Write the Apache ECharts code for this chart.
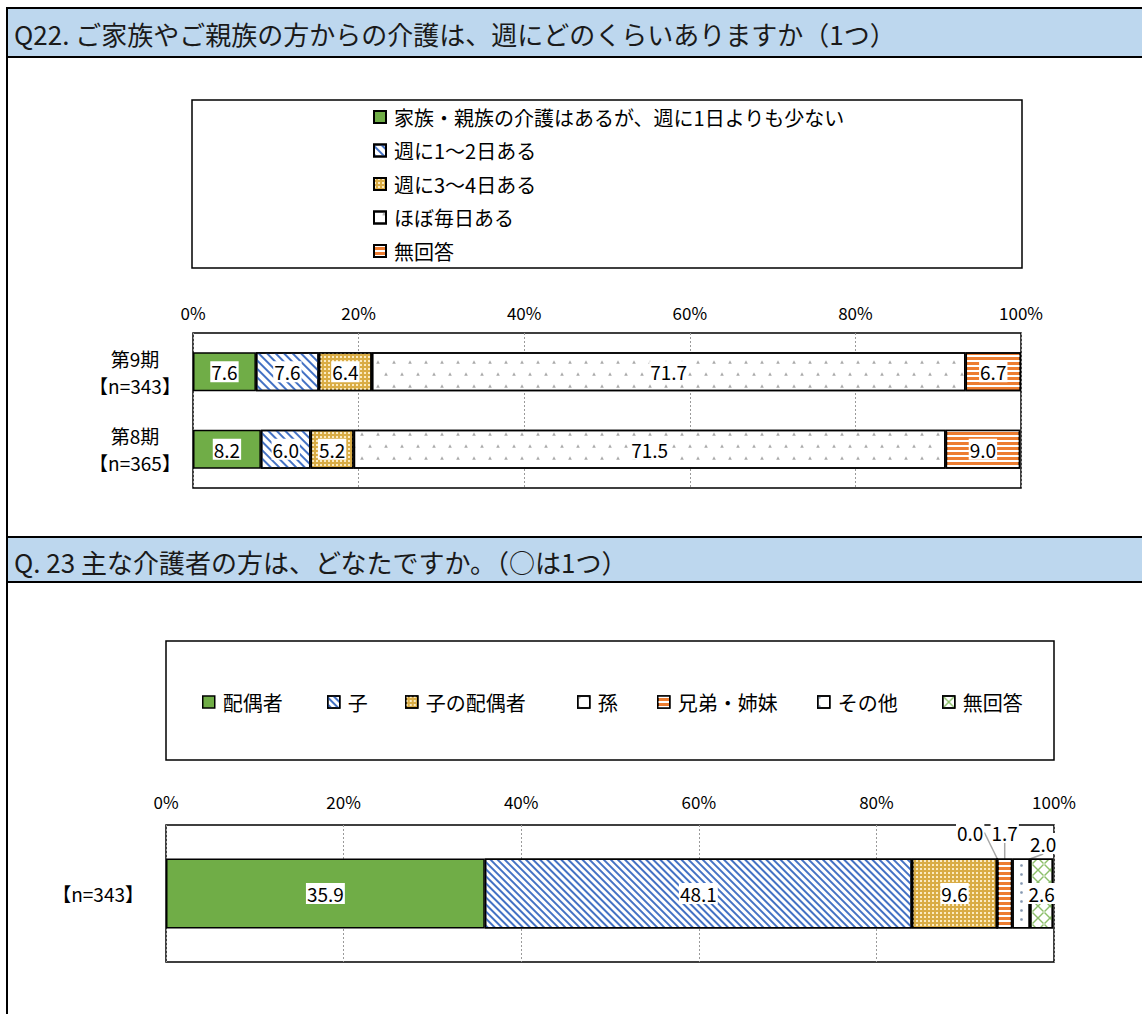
<!DOCTYPE html>
<html>
<head>
<meta charset="utf-8">
<script src="https://cdn.jsdelivr.net/npm/echarts@6/dist/echarts.min.js"></script>
<style>
html, body { margin: 0; padding: 0; background: #fff; }
#main { width: 1142px; height: 1014px; }
</style>
</head>
<body>
<div id="main"></div>
<script>
// Q22 data
var q22Periods = ['第9期\n【n=343】', '第8期\n【n=365】'];
var q22Names = ['家族・親族の介護はあるが、週に1日よりも少ない', '週に1～2日ある', '週に3～4日ある', 'ほぼ毎日ある', '無回答'];
var q22Less = [7.6, 8.2];
var q22Days12 = [7.6, 6.0];
var q22Days34 = [6.4, 5.2];
var q22Daily = [71.7, 71.5];
var q22NoAns = [6.7, 9.0];

// Q23 data
var q23Cats = ['【n=343】'];
var q23Names = ['配偶者', '子', '子の配偶者', '孫', '兄弟・姉妹', 'その他', '無回答'];
var q23Values = [35.9, 48.1, 9.6, 0.0, 1.7, 2.0, 2.6];

var pctMin = 0, pctMax = 100, pctStep = 20;

var FONT = "'Noto Sans CJK JP', sans-serif";

// hatch patterns
var pat = {
  green: { color: '#70AD47' },
  blue: { color: '#fff', decal: { color: '#4472C4', symbol: 'rect', dashArrayX: [1, 0], dashArrayY: [2, 4], rotation: Math.PI / 4 } },
  blueFine: { color: '#fff', decal: { color: '#4472C4', symbol: 'rect', dashArrayX: [1, 0], dashArrayY: [1.5, 3], rotation: Math.PI / 4 } },
  gold: { color: '#D9AC45', decal: { color: '#FBEBC2', symbol: 'rect', dashArrayX: [1.5, 1.5], dashArrayY: [1.5, 1.5] } },
  chevron: { color: '#fff', decal: { color: '#AAAAAA', symbol: 'triangle', symbolSize: 0.9, dashArrayX: [[4, 12], [0, 8, 4, 4]], dashArrayY: [4, 8] } },
  orange: { color: '#ED7D31', decal: { color: '#fff', symbol: 'rect', dashArrayX: [1, 0], dashArrayY: [1.5, 2.5] } },
  greyDots: { color: '#fff', decal: { color: '#A0A0A0', symbol: 'circle', symbolSize: 0.8, dashArrayX: [3, 7], dashArrayY: [3, 7] } },
  blueDots: { color: '#fff', decal: { color: '#8497B0', symbol: 'circle', symbolSize: 0.9, dashArrayX: [3, 9], dashArrayY: [3, 6] } },
  greenX: { color: '#fff', decal: { color: '#8CBF6A', symbol: 'path://M0,1L1,0L6,5L11,0L12,1L7,6L12,11L11,12L6,7L1,12L0,11L5,6Z', symbolSize: 1, dashArrayX: [12, 0], dashArrayY: [12, 0] } }
};

function styleOf(p) {
  var s = { color: p.color, borderColor: '#000', borderWidth: 1.5 };
  if (p.decal) s.decal = p.decal;
  return s;
}

var valueLabel = {
  show: true,
  position: 'inside',
  fontFamily: FONT,
  fontSize: 19,
  color: '#000',
  backgroundColor: '#fff',
  padding: [2, 1, 0, 1],
  formatter: function (p) { return p.value.toFixed(1); }
};

var q22Data = [q22Less, q22Days12, q22Days34, q22Daily, q22NoAns];
var q22Pats = [pat.green, pat.blue, pat.gold, pat.chevron, pat.orange];
var q23Pats = [pat.green, pat.blueFine, pat.gold, pat.greyDots, pat.orange, pat.blueDots, pat.greenX];
var q23Shift = [null, null, null, [-27, -61], [0, -61], [22, -50], null];
var q23LegendX = [202, 327, 405, 577, 657, 817, 942];

var series = [];
q22Names.forEach(function (n, i) {
  series.push({
    name: n, type: 'bar', stack: 'q22', xAxisIndex: 0, yAxisIndex: 0,
    barWidth: 39, data: q22Data[i],
    itemStyle: styleOf(q22Pats[i]),
    label: valueLabel
  });
});
q23Names.forEach(function (n, i) {
  var s = {
    name: n, type: 'bar', stack: 'q23', xAxisIndex: 1, yAxisIndex: 1,
    barWidth: 70, data: [q23Values[i]],
    itemStyle: styleOf(q23Pats[i]),
    label: valueLabel
  };
  if (q23Shift[i]) {
    s.labelLayout = { dx: q23Shift[i][0], dy: q23Shift[i][1] };
    s.labelLine = { show: true, lineStyle: { color: '#A6A6A6', width: 1.5 } };
  }
  series.push(s);
});

var legendText = { fontFamily: FONT, fontSize: 20, lineHeight: 20, color: '#000', padding: [0, 0, 0, 3] };
var legends = [{
  orient: 'vertical', left: 373, top: 107, padding: 0, icon: 'rect',
  itemWidth: 12, itemHeight: 12, itemGap: 13.5,
  data: q22Names, textStyle: legendText, selectedMode: false
}];
q23Names.forEach(function (n, i) {
  legends.push({
    left: q23LegendX[i], top: 692, padding: 0, icon: 'rect', itemWidth: 12, itemHeight: 12,
    data: [{ name: n, itemStyle: styleOf(q23Pats[i]) }],
    textStyle: legendText, selectedMode: false
  });
});

function xAxisOf(idx, margin) {
  return {
    type: 'value', gridIndex: idx, position: 'top',
    min: pctMin, max: pctMax, interval: pctStep,
    axisLabel: { formatter: '{value}%', margin: margin, fontFamily: FONT, fontSize: 17, color: '#000' },
    axisLine: { show: false }, axisTick: { show: false },
    splitLine: { lineStyle: { type: [2, 2], color: '#9A9A9A', width: 1 } }
  };
}

var myChart = echarts.init(document.getElementById('main'), null, { renderer: 'svg' });
var option = {
  animation: false,
  textStyle: { fontFamily: FONT },
  graphic: [
    { type: 'line', shape: { x1: 7, y1: 8, x2: 7, y2: 1014 }, style: { stroke: '#000', lineWidth: 2 } },
    { type: 'rect', shape: { x: 7, y: 8, width: 1150, height: 49 }, style: { fill: '#BDD7EE', stroke: '#000', lineWidth: 2 } },
    { type: 'text', x: 14, y: 33, style: { text: 'Q22. ご家族やご親族の方からの介護は、週にどのくらいありますか（1つ）', font: '26px ' + FONT, fill: '#1a1a1a', verticalAlign: 'middle' } },
    { type: 'rect', shape: { x: 7, y: 537, width: 1150, height: 45 }, style: { fill: '#BDD7EE', stroke: '#000', lineWidth: 2 } },
    { type: 'text', x: 14, y: 561, style: { text: 'Q. 23 主な介護者の方は、どなたですか。（○は1つ）', font: '26px ' + FONT, fill: '#1a1a1a', verticalAlign: 'middle' } },
    { type: 'rect', shape: { x: 192, y: 100, width: 830, height: 168 }, style: { fill: 'none', stroke: '#000', lineWidth: 1.5 } },
    { type: 'rect', shape: { x: 166, y: 641, width: 888, height: 119 }, style: { fill: 'none', stroke: '#000', lineWidth: 1.5 } }
  ],
  legend: legends,
  grid: [
    { left: 193, right: 121, top: 333, height: 155, show: true, borderColor: '#000', borderWidth: 1.5 },
    { left: 166, right: 88, top: 825, height: 137, show: true, borderColor: '#000', borderWidth: 1.5 }
  ],
  xAxis: [xAxisOf(0, 12), xAxisOf(1, 15)],
  yAxis: [
    {
      type: 'category', gridIndex: 0, data: q22Periods, inverse: true,
      axisLine: { show: false }, axisTick: { show: false },
      axisLabel: { align: 'center', margin: 58, fontFamily: FONT, fontSize: 19, lineHeight: 27, color: '#000' }
    },
    {
      type: 'category', gridIndex: 1, data: q23Cats,
      axisLine: { show: false }, axisTick: { show: false },
      axisLabel: { margin: 22, fontFamily: FONT, fontSize: 19, color: '#000' }
    }
  ],
  series: series
};
myChart.setOption(option);
</script>
</body>
</html>
